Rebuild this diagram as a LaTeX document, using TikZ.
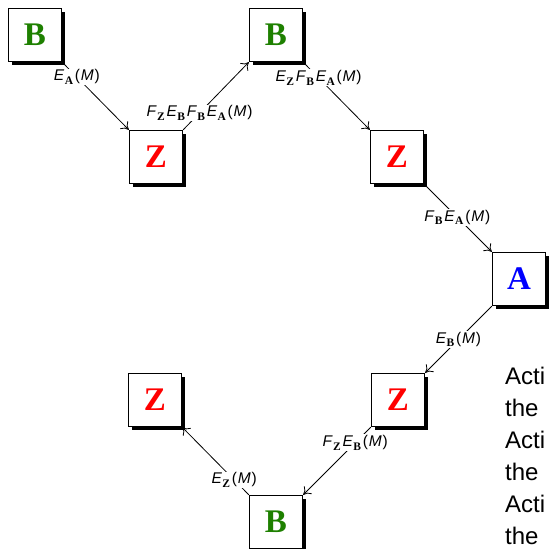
\documentclass[tikz,border=0pt]{standalone}
\usepackage{fontspec}
\setmainfont{Liberation Serif}
\setsansfont{Liberation Sans}
\usetikzlibrary{arrows.meta,shadows}

\definecolor{opgreen}{RGB}{30,128,0}

% one operator with its bold subscript
\newcommand\op[2]{\textit{#1}\kern0.3pt\raisebox{-3.5pt}{\fontsize{11.5}{11.5}\selectfont\rmfamily\bfseries #2}\kern1.8pt}
\newcommand\ofM{(\kern0.8pt\textit{M}\kern0.8pt)}

\tikzset{
  mbox/.style={draw, fill=white, line width=0.9pt, minimum size=53.5pt, inner sep=0pt,
    font=\fontsize{33}{33}\selectfont\rmfamily\bfseries,
    drop shadow={shadow xshift=3.5pt, shadow yshift=-3.5pt, fill=black, opacity=1}},
  opl/.style={fill=white, inner sep=1pt, font=\fontsize{15.5}{15.5}\selectfont\sffamily},
  mv/.style={line width=0.8pt, -{To[length=7pt,width=11pt]}}
}

\begin{document}
\begin{tikzpicture}[x=1pt, y=-1pt]
  \useasboundingbox (0,0) rectangle (550,549);
  % the boxes
  \node[mbox, text=opgreen] (b1) at (35,35) {B};
  \node[mbox, text=red] (z1) at (156,157) {Z};
  \node[mbox, text=opgreen] (b2) at (276,35) {B};
  \node[mbox, text=red] (z2) at (397,157) {Z};
  \node[mbox, text=blue] (a) at (519,279) {A};
  \node[mbox, text=red] (z3) at (398,400) {Z};
  \node[mbox, text=red] (z4) at (155,400) {Z};
  \node[mbox, text=opgreen] (b3) at (276,522) {B};
  % the moves between them
  \draw[mv] (b1.south east) -- node[opl, pos=0.22] (l1) {\op{E}{A}\ofM} (z1.north west);
  \draw[mv] (z1.north east) -- node[opl, pos=0.25] (l2) {\op{F}{Z}\op{E}{B}\op{F}{B}\op{E}{A}\ofM} (b2.south west);
  \draw[mv] (b2.south east) -- node[opl, pos=0.23] (l3) {\op{E}{Z}\op{F}{B}\op{E}{A}\ofM} (z2.north west);
  \draw[mv] (z2.south east) -- node[opl, pos=0.49] (l4) {\op{F}{B}\op{E}{A}\ofM} (a.north west);
  \draw[mv] (a.south west) -- node[opl, pos=0.5] (l5) {\op{E}{B}\ofM} (z3.north east);
  \draw[mv] (z3.south west) -- node[opl, pos=0.23] (l6) {\op{F}{Z}\op{E}{B}\ofM} (b3.north east);
  \draw[mv] (b3.north west) -- node[opl, pos=0.22] (l7) {\op{E}{Z}\ofM} (z4.south east);
  % side text
  \node[anchor=north west, align=left, inner sep=0pt,
    font=\fontsize{24}{32}\selectfont\sffamily] (txt) at (505,367)
    {Acti\\the\\Acti\\the\\Acti\\the};
\end{tikzpicture}
\end{document}
